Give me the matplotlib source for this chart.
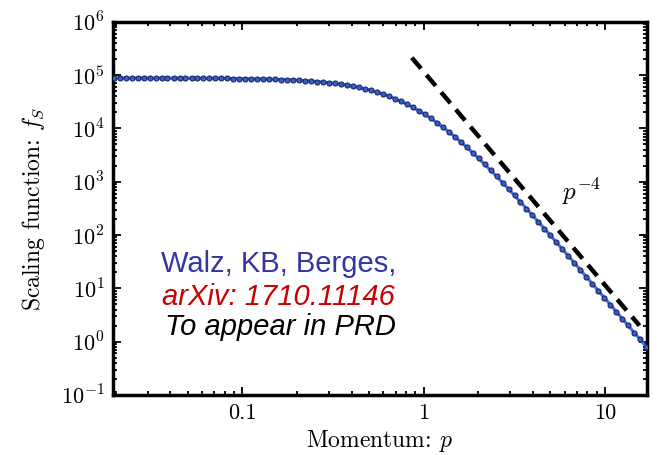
import numpy as np
import matplotlib
matplotlib.use("Agg")
import matplotlib.pyplot as plt
from matplotlib.ticker import FixedLocator, FixedFormatter, LogLocator, NullFormatter

plt.rcParams['font.family'] = 'serif'
plt.rcParams['font.serif'] = ['cmr10', 'DejaVu Serif']
plt.rcParams['mathtext.fontset'] = 'cm'
plt.rcParams['axes.unicode_minus'] = False

# momentum values of the data points
p = [0.0195, 0.0210, 0.0227, 0.0245, 0.0264, 0.0285, 0.0308, 0.0332, 0.0358, 0.0386,
     0.0417, 0.0450, 0.0485, 0.0524, 0.0565, 0.0610, 0.0658, 0.0710, 0.0766, 0.0826,
     0.0891, 0.0962, 0.104, 0.112, 0.121, 0.130, 0.141, 0.152, 0.164, 0.177,
     0.191, 0.206, 0.222, 0.239, 0.258, 0.279, 0.301, 0.324, 0.350, 0.378,
     0.407, 0.440, 0.474, 0.512, 0.552, 0.596, 0.643, 0.693, 0.748, 0.807,
     0.871, 0.940, 1.014, 1.094, 1.180, 1.274, 1.374, 1.483, 1.600, 1.726,
     1.862, 2.009, 2.168, 2.339, 2.523, 2.723, 2.938, 3.170, 3.420, 3.690,
     3.981, 4.295, 4.634, 5.000, 5.395, 5.821, 6.281, 6.776, 7.311, 7.889,
     8.511, 9.183, 9.908, 10.69, 11.53, 12.45, 13.43, 14.49, 15.63, 16.87]

# scaling function f_S
fs = [8.80e4, 8.80e4, 8.79e4, 8.79e4, 8.79e4, 8.79e4, 8.78e4, 8.78e4, 8.78e4, 8.77e4,
      8.77e4, 8.76e4, 8.75e4, 8.75e4, 8.74e4, 8.73e4, 8.71e4, 8.70e4, 8.68e4, 8.66e4,
      8.64e4, 8.61e4, 8.58e4, 8.55e4, 8.51e4, 8.47e4, 8.41e4, 8.35e4, 8.28e4, 8.20e4,
      8.11e4, 8.00e4, 7.88e4, 7.74e4, 7.59e4, 7.41e4, 7.22e4, 7.00e4, 6.75e4, 6.49e4,
      6.19e4, 5.88e4, 5.54e4, 5.19e4, 4.81e4, 4.43e4, 4.03e4, 3.64e4, 3.24e4, 2.86e4,
      2.50e4, 2.15e4, 1.84e4, 1.55e4, 1.29e4, 1.06e4, 8.69e3, 7.02e3, 5.62e3, 4.46e3,
      3.51e3, 2.74e3, 2.13e3, 1.64e3, 1.26e3, 961, 730, 553, 417, 314,
      236, 176, 132, 98.4, 73.3, 54.5, 40.5, 30.1, 22.3, 16.5,
      12.2, 9.07, 6.71, 4.97, 3.67, 2.71, 2.01, 1.48, 1.10, 0.809]

# power law guide p^-4
guide_p = [0.86, 15.5]
guide_f = [2.12e5, 2.0]

fig = plt.figure(figsize=(6.64, 4.55), dpi=100)
ax = fig.add_axes([0.170, 0.132, 0.804, 0.820])

ax.plot(guide_p, guide_f, '--', color='black', lw=3.2, dashes=(3.2, 1.9), zorder=3)
ax.plot(p, fs, '-', color='#3a6fdc', lw=2.2, zorder=4)
ax.plot(p, fs, 'o', ms=3.6, mfc='#3d5fc4', mec='#1b2766', mew=0.8, zorder=5)

ax.set_xscale('log')
ax.set_yscale('log')
ax.set_xlim(0.0193, 17.0)
ax.set_ylim(1e-1, 1e6)

ax.xaxis.set_major_locator(FixedLocator([0.1, 1, 10]))
ax.xaxis.set_major_formatter(FixedFormatter(['0.1', '1', '10']))
ax.xaxis.set_minor_locator(LogLocator(base=10, subs=np.arange(2, 10)))
ax.xaxis.set_minor_formatter(NullFormatter())
yt = [10.0**k for k in range(-1, 7)]
ax.yaxis.set_major_locator(FixedLocator(yt))
ax.yaxis.set_major_formatter(FixedFormatter([r'$10^{%d}$' % k for k in range(-1, 7)]))
ax.yaxis.set_minor_locator(LogLocator(base=10, subs=np.arange(2, 10)))
ax.yaxis.set_minor_formatter(NullFormatter())

ax.tick_params(which='both', direction='in', top=True, right=True, width=1.3)
ax.tick_params(which='major', length=6, labelsize=16, pad=6)
ax.tick_params(which='minor', length=3)
for s in ax.spines.values():
    s.set_linewidth(2.5)

ax.set_xlabel('Momentum: $p$', fontsize=17, labelpad=4)
ax.set_ylabel('Scaling function: $f_S$', fontsize=17, labelpad=10)

ax.text(7.4, 650, r'$p^{-4}$', fontsize=18, ha='center', va='center')

sans = ['Liberation Sans', 'DejaVu Sans']
ax.text(0.090, 0.330, 'Walz, KB, Berges,', transform=ax.transAxes, fontsize=21,
        family=sans, color='#3535a0')
ax.text(0.092, 0.242, 'arXiv: 1710.11146', transform=ax.transAxes, fontsize=21,
        family=sans, color='#c80000', style='italic')
ax.text(0.097, 0.161, 'To appear in PRD', transform=ax.transAxes, fontsize=21,
        family=sans, color='black', style='italic')

fig.savefig('out.png', dpi=100)
